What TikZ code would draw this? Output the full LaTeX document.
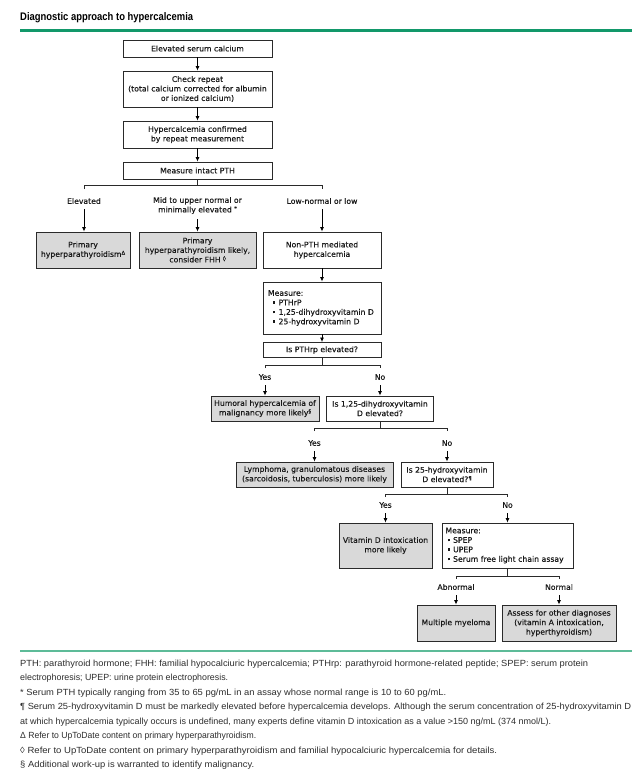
\documentclass[tikz,border=0pt]{standalone}
\usepackage{fontspec}
\usepackage{graphicx}
\setmainfont{DejaVu Sans}
\newfontfamily\diafont[FakeBold=0.3]{DejaVu Sans}
\newfontfamily\footfont{Liberation Sans}
\usetikzlibrary{arrows.meta}

\definecolor{boxgray}{HTML}{D9D9D9}
\definecolor{edgecol}{HTML}{2A2A2A}
\definecolor{topgreen}{HTML}{12986A}
\definecolor{botgreen}{HTML}{5DBB98}
\definecolor{foottext}{HTML}{2E2E2E}

\newcommand{\mysym}[1]{\raisebox{2.2pt}{\fontsize{5.2}{5}\selectfont #1}}
\newcommand{\sqb}{\rule[1.4pt]{2.4pt}{2.4pt}}
\newcommand{\fline}[2]{\resizebox{#1pt}{\height}{#2}}

\tikzset{
  box/.style={draw=edgecol, line width=0.9pt, fill=white, align=center,
    font=\diafont\fontsize{7.7}{9.5}\selectfont, inner sep=0pt, text=black!90},
  gbox/.style={box, fill=boxgray},
  lab/.style={font=\diafont\fontsize{7.7}{9.5}\selectfont, align=center, inner xsep=0pt, inner ysep=5pt, text=black!90},
  arr/.style={-{Latex[length=4.5pt,width=4pt]}, line width=0.8pt, draw=black},
  ln/.style={line width=0.8pt, draw=edgecol},
  foot/.style={anchor=base west, inner sep=0pt, font=\footfont\fontsize{8.9}{10}\selectfont, text=foottext}
}

\begin{document}
\begin{tikzpicture}[x=1pt,y=-1pt]
\useasboundingbox (0,0) rectangle (640,772);
\fill[white] (0,0) rectangle (640,772);

% title and rules
\node[anchor=base west, inner sep=0pt] (title) at (20,20.5)
  {\resizebox{173pt}{\height}{\footfont\fontsize{11}{11}\selectfont\bfseries Diagnostic approach to hypercalcemia}};
\fill[topgreen] (20,28.5) rectangle (632,31.5);
\fill[botgreen] (20,649.5) rectangle (632,651.5);

% main column
\node[box, minimum width=149pt, minimum height=17pt] (b1) at (197.5,48.5) {Elevated serum calcium};
\node[box, minimum width=149pt, minimum height=36pt] (b2) at (197.5,89) {Check repeat\\(total calcium corrected for albumin\\or ionized calcium)};
\node[box, minimum width=149pt, minimum height=27pt] (b3) at (197.5,134.5) {Hypercalcemia confirmed\\by repeat measurement};
\node[box, minimum width=149pt, minimum height=17pt] (b4) at (197.5,170.5) {Measure intact PTH};
\draw[arr] (b1) -- (b2);
\draw[arr] (b2) -- (b3);
\draw[arr] (b3) -- (b4);

% branch 1
\coordinate (j1) at (197.5,185);
\coordinate (j1l) at (84,185);
\coordinate (t1l) at (84,189);
\coordinate (j1r) at (322,185);
\coordinate (t1r) at (322,189);
\draw[ln] (b4.south) -- (j1);
\draw[ln] (t1l) -- (j1l) -- (j1r) -- (t1r);

\node[lab] (lElev) at (84,201) {Elevated};
\node[lab] (lMid) at (197.5,205.5) {Mid to upper normal or\\minimally elevated \mysym{*}};
\node[lab] (lLow) at (322,201) {Low-normal or low};

\node[gbox, minimum width=94pt, minimum height=36pt] (bA) at (83,250) {Primary\\hyperparathyroidism\mysym{Δ}};
\node[gbox, minimum width=117pt, minimum height=36pt] (bB) at (197.5,250) {Primary\\hyperparathyroidism likely,\\consider FHH \mysym{◊}};
\node[box, minimum width=118pt, minimum height=36pt] (bC) at (322,250) {Non-PTH mediated\\hypercalcemia};
\draw[arr] (lElev.south) -- (lElev.south |- bA.north);
\draw[arr] (lMid) -- (bB);
\draw[arr] (lLow) -- (bC);

% measure PTHrP etc.
\node[box, minimum width=118pt, minimum height=52pt, text width=108pt, align=left] (m1) at (322,308)
  {Measure:\\\hspace*{5pt}\sqb\hspace{3.2pt}PTHrP\\\hspace*{5pt}\sqb\hspace{3.2pt}1,25-dihydroxyvitamin D\\\hspace*{5pt}\sqb\hspace{3.2pt}25-hydroxyvitamin D\\[6pt]};
\node[box, minimum width=118pt, minimum height=15pt] (q1) at (322,350) {Is PTHrp elevated?};
\draw[arr] (bC) -- (m1);
\draw[arr] (m1) -- (q1);

% branch 2
\coordinate (j2) at (322,365);
\coordinate (j2l) at (265,365);
\coordinate (t2l) at (265,368);
\coordinate (j2r) at (380,365);
\coordinate (t2r) at (380,368);
\draw[ln] (q1.south) -- (j2);
\draw[ln] (t2l) -- (j2l) -- (j2r) -- (t2r);
\node[lab] (lY1) at (265,377) {Yes};
\node[lab] (lN1) at (380,377) {No};

\node[gbox, minimum width=108pt, minimum height=25pt] (hum) at (265,408.5) {Humoral hypercalcemia of\\malignancy more likely\mysym{§}};
\node[box, minimum width=107pt, minimum height=25pt] (q2) at (380,408.5) {Is 1,25-dihydroxyvitamin\\D elevated?};
\draw[arr] (lY1) -- (hum);
\draw[arr] (lN1) -- (q2);

% branch 3
\coordinate (j3) at (380,428);
\coordinate (j3l) at (314.5,428);
\coordinate (t3l) at (314.5,431);
\coordinate (j3r) at (447,428);
\coordinate (t3r) at (447,431);
\draw[ln] (q2.south) -- (j3);
\draw[ln] (t3l) -- (j3l) -- (j3r) -- (t3r);
\node[lab] (lY2) at (314.5,443) {Yes};
\node[lab] (lN2) at (447,443) {No};

\node[gbox, minimum width=157pt, minimum height=25pt] (lym) at (314.5,474.5) {Lymphoma, granulomatous diseases\\(sarcoidosis, tuberculosis) more likely};
\node[box, minimum width=92pt, minimum height=25pt] (q3) at (447,474.5) {Is 25-hydroxyvitamin\\D elevated?\mysym{¶}};
\draw[arr] (lY2) -- (lym);
\draw[arr] (lN2) -- (q3);

% branch 4
\coordinate (j4) at (447,494);
\coordinate (j4l) at (385.5,494);
\coordinate (t4l) at (385.5,497);
\coordinate (j4r) at (507.5,494);
\coordinate (t4r) at (507.5,497);
\draw[ln] (q3.south) -- (j4);
\draw[ln] (t4l) -- (j4l) -- (j4r) -- (t4r);
\node[lab] (lY3) at (385.5,505) {Yes};
\node[lab] (lN3) at (507.5,505) {No};

\node[gbox, minimum width=93pt, minimum height=45pt] (vitd) at (385.5,545.5) {Vitamin D intoxication\\more likely};
\node[box, minimum width=131pt, minimum height=45pt, text width=124pt, align=left] (m2) at (507.5,545.5)
  {Measure:\\\hspace*{2pt}\sqb\hspace{3.2pt}SPEP\\\hspace*{2pt}\sqb\hspace{3.2pt}UPEP\\\hspace*{2pt}\sqb\hspace{3.2pt}Serum free light chain assay\\[1pt]};
\draw[arr] (lY3) -- (vitd);
\draw[arr] (lN3) -- (m2);

% branch 5
\coordinate (j5) at (507.5,576);
\coordinate (j5l) at (456,576);
\coordinate (t5l) at (456,579);
\coordinate (j5r) at (559,576);
\coordinate (t5r) at (559,579);
\draw[ln] (m2.south) -- (j5);
\draw[ln] (t5l) -- (j5l) -- (j5r) -- (t5r);
\node[lab] (lAb) at (456,587) {Abnormal};
\node[lab] (lNo) at (559,587) {Normal};

\node[gbox, minimum width=78pt, minimum height=36pt] (mm) at (456,623) {Multiple myeloma};
\node[gbox, minimum width=114pt, minimum height=36pt] (ass) at (559,623) {Assess for other diagnoses\\(vitamin A intoxication,\\hyperthyroidism)};
\draw[arr] (lAb) -- (mm);
\draw[arr] (lNo) -- (ass);

% footnotes
\node[foot] (f1) at (20,666) {\fline{568}{PTH: parathyroid hormone; FHH: familial hypocalciuric hypercalcemia; PTHrp: parathyroid hormone-related peptide; SPEP: serum protein}};
\node[foot] (f2) at (20,680.5) {\fline{208}{electrophoresis; UPEP: urine protein electrophoresis.}};
\node[foot] (f3) at (20,695) {\fline{426}{* Serum PTH typically ranging from 35 to 65 pg/mL in an assay whose normal range is 10 to 60 pg/mL.}};
\node[foot] (f4) at (20,709.5) {\fline{611}{¶ Serum 25-hydroxyvitamin D must be markedly elevated before hypercalcemia develops. Although the serum concentration of 25-hydroxyvitamin D}};
\node[foot] (f5) at (20,724) {\fline{531}{at which hypercalcemia typically occurs is undefined, many experts define vitamin D intoxication as a value >150 ng/mL (374 nmol/L).}};
\node[foot] (f6) at (20,738.5) {\fline{236}{Δ Refer to UpToDate content on primary hyperparathyroidism.}};
\node[foot] (f7) at (20,753) {\fline{477}{◊ Refer to UpToDate content on primary hyperparathyroidism and familial hypocalciuric hypercalcemia for details.}};
\node[foot] (f8) at (20,767) {\fline{234}{§ Additional work-up is warranted to identify malignancy.}};
\end{tikzpicture}
\end{document}
